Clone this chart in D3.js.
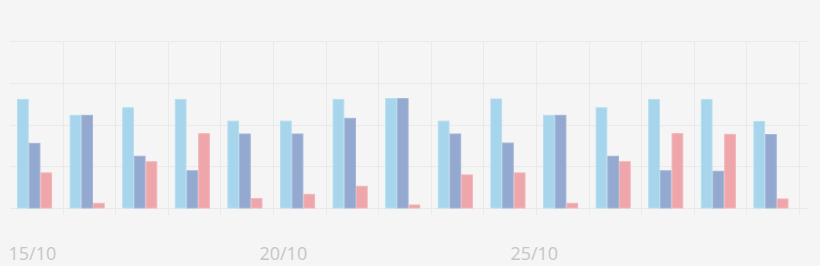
<!DOCTYPE html>
<html lang='en'>
<head>
   <meta charset='UTF-8'>
   <title>Bars</title>
   <script src='https://d3js.org/d3.v7.min.js'></script>
   <style>
      body { margin: 0; background: #f5f5f5; }
      svg { display: block; }
      .lbl text { font-family: 'Open Sans', sans-serif; font-size: 18px; fill: #c6c6c6; }
   </style>
</head>
<body>
   <div id='chart'></div>
   <script>
      const days = ['15/10', '16/10', '17/10', '18/10', '19/10', '20/10', '21/10', '22/10',
         '23/10', '24/10', '25/10', '26/10', '27/10', '28/10', '29/10'];
      const seriesA = [65, 55.5, 60, 65, 52, 52, 65, 65.5, 52, 65.3, 55.5, 60, 65, 64.9, 51.8];
      const seriesB = [38.7, 55.5, 31, 22.3, 44.3, 44.3, 53.7, 65.5, 44.3, 38.9, 55.5, 31, 22.3, 22, 44];
      const seriesC = [21, 2.8, 27.7, 44.5, 5.6, 8.2, 13, 1.8, 19.8, 21, 2.8, 27.7, 44.5, 44.1, 5.4];
      const gridValues = [0, 25, 50, 75, 100];
      const axisLabels = ['15/10', '20/10', '25/10'];

      const series = [
         { key: 'a', values: seriesA, fill: '#a6d5ec', stroke: '#b6def1' },
         { key: 'b', values: seriesB, fill: '#93a9cf', stroke: '#a4b6d7' },
         { key: 'c', values: seriesC, fill: '#eea6ab', stroke: '#f2b5b9' }
      ];

      const W = 820, H = 266;
      const svg = d3.select('#chart').append('svg').attr('width', W).attr('height', H);

      const x0 = d3.scaleBand().domain(days).range([10, 799]);
      const x1 = d3.scaleBand().domain(series.map(s => s.key))
         .range([0, x0.bandwidth()]).paddingOuter(0.75).align(0.4);
      const y = d3.scaleLinear().domain([0, 100]).range([208, 41]);

      // grid
      const grid = svg.append('g').attr('stroke', '#eaeaea').attr('stroke-width', 1);
      grid.selectAll('line.h').data(gridValues).join('line')
         .attr('class', 'h')
         .attr('x1', 10).attr('x2', 809)
         .attr('y1', d => Math.round(y(d)) + 0.5).attr('y2', d => Math.round(y(d)) + 0.5);
      grid.selectAll('line.v').data(days.slice(1).concat(['end'])).join('line')
         .attr('class', 'v')
         .attr('x1', d => Math.round(d === 'end' ? x0.range()[1] : x0(d)) + 0.5)
         .attr('x2', d => Math.round(d === 'end' ? x0.range()[1] : x0(d)) + 0.5)
         .attr('y1', y(100)).attr('y2', 215);

      // bars
      series.forEach(s => {
         svg.append('g').selectAll('rect').data(days).join('rect')
            .attr('x', d => x0(d) + x1(s.key) + 0.5)
            .attr('y', (d, i) => y(s.values[i]))
            .attr('width', x1.bandwidth() - 1)
            .attr('height', (d, i) => y(0) - y(s.values[i]))
            .attr('fill', s.fill)
            .attr('stroke', s.stroke)
            .attr('stroke-width', 1);
      });

      // date labels
      const parse = d3.timeParse('%d/%m/%Y');
      const t = d3.scaleTime()
         .domain([parse('15/10/2015'), parse('31/10/2015')])
         .range([10, 813]);
      svg.append('g').attr('class', 'lbl')
         .attr('transform', 'translate(0, 260)')
         .call(d3.axisBottom(t)
            .tickValues(axisLabels.map(l => parse(l + '/2015')))
            .tickFormat(d3.timeFormat('%d/%m'))
            .tickSize(0).tickPadding(0))
         .call(g => g.select('.domain').remove())
         .selectAll('text')
         .attr('text-anchor', 'start')
         .attr('dy', 0)
         .attr('y', 0)
         .attr('x', -2);
   </script>
</body>
</html>
